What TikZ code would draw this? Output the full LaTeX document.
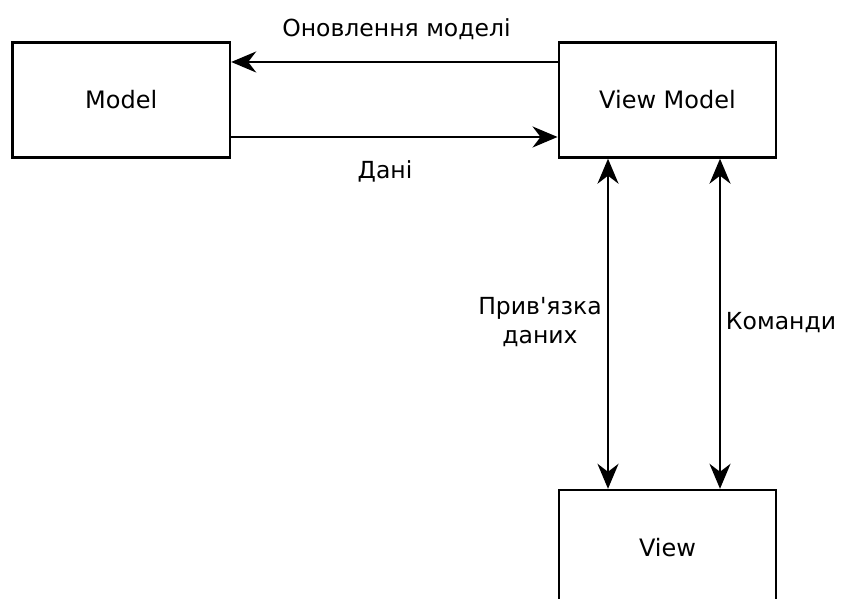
\documentclass[tikz,border=0pt]{standalone}
\usepackage{fontspec}
\setmainfont{DejaVu Sans}
\usetikzlibrary{arrows.meta}

\begin{document}
\begin{tikzpicture}[x=1pt,y=1pt,
  box/.style={draw, line width=2.4pt, minimum width=217.5pt, minimum height=115pt,
              inner sep=0pt, font=\fontsize{24}{28}\selectfont},
  lbl/.style={font=\fontsize{23.5}{29}\selectfont, inner sep=0pt, anchor=base, align=center},
  arr/.style={line width=2.2pt, -{Stealth[length=25pt,width=21pt,inset=8pt]}},
  dbl/.style={line width=2.2pt, {Stealth[length=25pt,width=21pt,inset=8pt]}-{Stealth[length=25pt,width=21pt,inset=8pt]}}]
  \useasboundingbox (0,0) rectangle (843,599);
  \fill[white] (0,0) rectangle (843,599);

  % the three components
  \node[box] (model) at (121.25,499) {Model};
  \node[box] (vm)    at (667.5,499)  {View Model};
  \node[box] (view)  at (667.5,51.5) {View};

  % Model <-> View Model
  \draw[arr] ([yshift=38pt]vm.west) -- ([yshift=38pt]model.east);
  \draw[arr] ([yshift=-37pt]model.east) -- ([yshift=-37pt]vm.west);

  % View Model <-> View
  \draw[dbl] ([xshift=-59.5pt]vm.south) -- ([xshift=-59.5pt]view.north);
  \draw[dbl] ([xshift=52.5pt]vm.south) -- ([xshift=52.5pt]view.north);

  % labels
  \node[lbl] (lupd)  at (396.5,562) {Оновлення моделі};
  \node[lbl] (ldata) at (385,420)   {Дані};
  \node[lbl, anchor=north] (lbind) at (540,302) {Прив\textquotesingle язка\\даних};
  \node[lbl] (lcmd)  at (781,269)   {Команди};
\end{tikzpicture}
\end{document}
